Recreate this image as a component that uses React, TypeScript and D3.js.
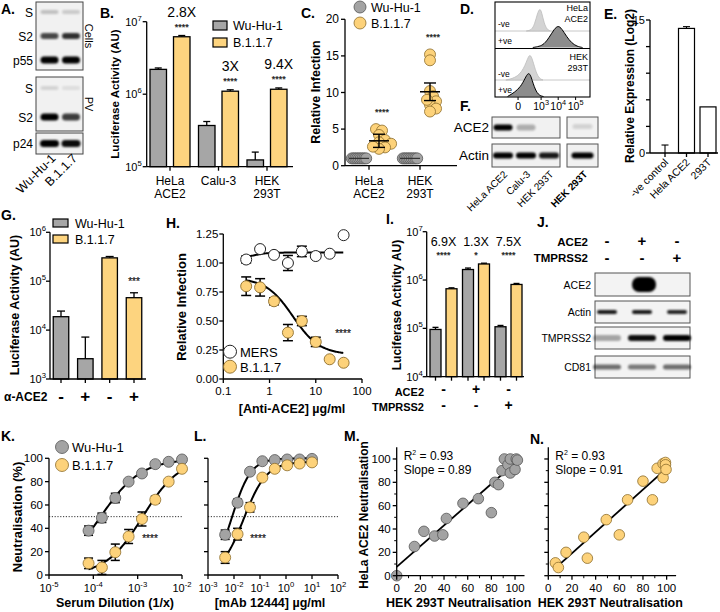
import React from "react";
import * as d3 from "d3";

const FONT = "'Liberation Sans', Arial, Helvetica, sans-serif";
const GRAY = "#a6a6a6";
const YELLOW = "#fdd47f";
const GRAY_PT = "#a3a3a3";
const GRAY_PT_STROKE = "#555";
const YELLOW_PT = "#fdd27a";
const YELLOW_PT_STROKE = "#8d6d2c";

// ---------- A (western blot) ----------
const A_LANES = ["Wu-Hu-1", "B.1.1.7"];
const A_CELL_ROWS = ["S", "S2", "p55"];
const A_CELL_INT = [[0.2, 0.16], [0.7, 0.8], [1, 1]];
const A_PV_ROWS = ["S", "S2"];
const A_PV_INT = [[0.12, 0.08], [1, 0.75]];
const A_P24_INT = [1, 0.95];

// ---------- B ----------
const B_CATS = ["HeLa ACE2", "Calu-3", "HEK 293T"];
const B_CAT_LINES = [["HeLa", "ACE2"], ["Calu-3"], ["HEK", "293T"]];
const B_WU = [2.2e6, 3.7e5, 1.24e5];
const B_WU_ERR = [0.1e6, 0.5e5, 0.35e5];
const B_B117 = [6.2e6, 1.1e6, 1.17e6];
const B_B117_ERR = [0.25e6, 0.05e6, 0.05e6];
const B_FOLD = ["2.8X", "3X", "9.4X"];
const B_SIG = ["****", "****", "****"];
const B_TICKS = [5, 6, 7];

// ---------- C ----------
const C_CATS = ["HeLa ACE2", "HEK 293T"];
const C_CAT_LINES = [["HeLa", "ACE2"], ["HEK", "293T"]];
const C_WU = [[1, 1, 1, 1, 1, 1, 1, 1, 1], [1, 1, 1, 1, 1, 1, 1, 1, 1]];
const C_B117 = [
  [5.0, 4.8, 4.2, 3.5, 3.2, 3.0, 2.5, 2.3, 2.6],
  [15.2, 14.4, 10.2, 9.5, 8.8, 8.3, 7.8, 7.4, 9.0],
];
const C_B117_MEAN = [3.4, 10.1];
const C_B117_ERR = [0.9, 1.2];
const C_SIG = ["****", "****"];
const C_TICKS = [0, 5, 10, 15, 20];

// ---------- D (flow histograms: [intensity, relative count]) ----------
const D_HELA_NEG = [[100, 0], [250, 0.04], [400, 0.3], [600, 0.78], [850, 1.0], [1100, 0.8], [1500, 0.35], [2200, 0.07], [3500, 0]];
const D_HELA_POS = [[300, 0], [800, 0.05], [1500, 0.15], [3000, 0.45], [6000, 0.85], [10000, 1.0], [16000, 0.86], [30000, 0.5], [60000, 0.2], [120000, 0.05], [250000, 0]];
const D_HEK_NEG = [[-200, 0], [0, 0.1], [80, 0.5], [180, 1.0], [300, 0.7], [500, 0.25], [800, 0.05], [1300, 0]];
const D_HEK_POS = [[-150, 0], [30, 0.3], [150, 1.0], [280, 0.55], [500, 0.15], [900, 0.02], [1400, 0]];
const D_TICKS = [0, 1000, 10000, 100000];
const D_TICK_EXP = ["", "3", "4", "5"];

// ---------- F (blot) ----------
const F_LANES = ["HeLa ACE2", "Calu-3", "HEK 293T"];
const F_ACE2 = [1, 0.28, 0];
const F_ACTIN = [1, 1, 0.9];
const F_LANES2 = ["HEK 293T"];
const F_ACE2_2 = [0.12];
const F_ACTIN_2 = [1];

// ---------- E ----------
const E_CATS = ["-ve control", "Hela ACE2", "293T"];
const E_VALS = [0, 14.05, 5.2];
const E_ERR = [0.9, 0.2, 0];
const E_MINOR = [3, 6, 9, 12];
const E_MAJOR = [0, 15];

// ---------- G ----------
const G_SIGN = ["-", "+", "-", "+"];
const G_GROUP = ["Wu-Hu-1", "Wu-Hu-1", "B.1.1.7", "B.1.1.7"];
const G_VALS = [1.88e4, 2.6e3, 3.0e5, 4.6e4];
const G_ERR_TOP = [2.45e4, 7.2e3, 3.2e5, 5.8e4];
const G_SIG = ["", "", "", "***"];
const G_TICKS = [3, 4, 5, 6];

// ---------- H ----------
const H_CONC = [0.3125, 0.625, 1.25, 2.5, 5, 10, 20, 40];
const H_MERS = [1.03, 1.12, 1.07, 1.0, 1.1, 1.06, 1.08, 1.24];
const H_MERS_ERR = [0.03, 0, 0, 0.065, 0.045, 0, 0, 0];
const H_B117 = [0.8, 0.79, 0.67, 0.4, 0.5, 0.32, 0.17, 0.14];
const H_B117_ERR = [0.08, 0.075, 0.03, 0.07, 0.04, 0.04, 0, 0];
const H_MERS_FIT = [1.04, 1.09, 0.45, 3]; // low-x, high-x, EC50, hill
const H_B117_FIT = [0.87, 0.21, 3.2, 1.5];
const H_YTICKS = [0, 0.25, 0.5, 0.75, 1.0, 1.25];
const H_XTICKS = [0.1, 1, 10, 100];

// ---------- I ----------
const I_ACE2 = ["-", "+", "-"];
const I_TMPRSS2 = ["-", "-", "+"];
const I_WU = [9.5e4, 1.65e6, 1.08e5];
const I_WU_ERR = [1.0e4, 1.2e5, 0.7e4];
const I_B117 = [6.6e5, 2.15e6, 8.1e5];
const I_B117_ERR = [0.3e5, 0.8e5, 0.4e5];
const I_FOLD = ["6.9X", "1.3X", "7.5X"];
const I_SIG = ["****", "*", "****"];
const I_TICKS = [4, 5, 6, 7];

// ---------- J (blot) ----------
const J_ACE2 = ["-", "+", "-"];
const J_TMPRSS2 = ["-", "-", "+"];
const J_ROWS = ["ACE2", "Actin", "TMPRSS2", "CD81"];
const J_INT = [[0, 1, 0], [0.9, 0.9, 0.85], [0.32, 0.95, 1], [0.55, 0.5, 0.55]];

// ---------- K ----------
const K_DIL = [0.000078, 0.000156, 0.000313, 0.000625, 0.00125, 0.0025, 0.005, 0.01];
const K_WU = [38, 49, 66, 80, 87, 95, 97, 99];
const K_WU_ERR = [4, 4, 4, 0, 0, 0, 0, 0];
const K_B117 = [10, 6.5, 19.5, 33, 48, 64.5, 80, 91];
const K_B117_ERR = [4.5, 6, 7, 6, 6, 3, 0, 0];
const K_WU_FIT = [0, 99.5, 0.000145, 0.95];
const K_B117_FIT = [0, 100, 0.0013, 1.05];
const K_XEXP = [-5, -4, -3, -2];

// ---------- L ----------
const L_CONC = [0.00457, 0.0137, 0.0412, 0.123, 0.37, 1.11, 3.33, 10];
const L_WU = [34.5, 62, 88.5, 97.5, 98.5, 99, 99, 99.5];
const L_WU_ERR = [4, 3, 0, 0, 0, 0, 0, 0];
const L_B117 = [15, 35, 58, 83.5, 91, 94, 95.5, 96.5];
const L_B117_ERR = [5, 5, 4, 0, 0, 0, 0, 0];
const L_WU_FIT = [0, 100, 0.0085, 1.2];
const L_B117_FIT = [0, 97, 0.024, 1.0];
const L_XEXP = [-3, -2, -1, 0, 1, 2];

// ---------- M / N ----------
const M_X = [0, 15, 23, 32, 39, 42, 56, 69, 80, 83, 86, 89, 91, 94, 96, 96, 100, 101, 102];
const M_Y = [0, 25, 38, 34, 35, 49, 62, 66, 54, 80, 78, 90, 100, 95, 88, 100, 91, 100, 99];
const M_FIT = [7.5, 0.89]; // intercept, slope
const M_FIT_RANGE = [0, 101];
const M_STATS = ["R² = 0.93", "Slope = 0.89"];
const N_X = [6, 8.5, 15, 30, 33, 49, 60, 67, 80, 88, 92, 97, 97, 99, 99, 99.5];
const N_Y = [11, 7, 20, 33, 15, 48, 35, 65, 81, 65, 92, 84, 96, 97, 95, 91];
const N_FIT = [1, 0.91];
const N_FIT_RANGE = [6, 100];
const N_STATS = ["R² = 0.93", "Slope = 0.91"];
const MN_TICKS = [0, 20, 40, 60, 80, 100];
const MN_MINOR = [10, 30, 50, 70, 90];

// ================= helpers =================
function fourPL(x: number, p: number[]) {
  const [a, d, c, b] = p;
  return d + (a - d) / (1 + Math.pow(x / c, b));
}

function Pow({ e }: { e: string | number }) {
  return (
    <>
      <tspan>10</tspan>
      <tspan dy={-5} fontSize="0.7em">{e}</tspan>
    </>
  );
}

function Stars({ x, y, t, fs = 9 }: any) {
  return (
    <text x={x} y={y} textAnchor="middle" fontSize={fs} fill="#222" stroke="#222" strokeWidth={0.25}>{t}</text>
  );
}

function Band({ cx, cy, w, h, k, rx }: any) {
  if (k <= 0) return null;
  return (
    <rect x={cx - w / 2} y={cy - h / 2} width={w} height={h} rx={rx ?? h / 2}
      fill="#000" opacity={k} filter="url(#bl)" />
  );
}

function ErrUp({ x, y0, y1, cap = 7, sw = 1.3 }: any) {
  return (
    <g stroke="#000" strokeWidth={sw}>
      <line x1={x} x2={x} y1={y0} y2={y1} />
      <line x1={x - cap / 2} x2={x + cap / 2} y1={y1} y2={y1} />
    </g>
  );
}

function ErrBoth({ x, ylo, yhi, cap = 8, sw = 1.3 }: any) {
  return (
    <g stroke="#000" strokeWidth={sw}>
      <line x1={x} x2={x} y1={ylo} y2={yhi} />
      <line x1={x - cap / 2} x2={x + cap / 2} y1={yhi} y2={yhi} />
      <line x1={x - cap / 2} x2={x + cap / 2} y1={ylo} y2={ylo} />
    </g>
  );
}

const AX = { stroke: "#000", strokeWidth: 1.3 };

function Label({ x, y, t }: any) {
  return <text x={x} y={y} fontSize={14} fontWeight="bold">{t}</text>;
}

// ================= panels =================
function PanelA() {
  const lx = d3.scalePoint<string>().domain(A_LANES).range([49.5, 71]);
  const cellY = d3.scalePoint<string>().domain(A_CELL_ROWS).range([12, 60]);
  const pvY = d3.scalePoint<string>().domain(A_PV_ROWS).range([88, 117]);
  const bh: any = { S: 4, S2: 6, p55: 7 };
  const boxFill = "#f1f1f1";
  return (
    <g>
      <Label x={1} y={14} t="A." />
      <rect x={36} y={2} width={47} height={68} fill={boxFill} stroke="#444" />
      <rect x={36} y={77} width={47} height={54} fill={boxFill} stroke="#444" />
      <rect x={36} y={133} width={47} height={21} fill={boxFill} stroke="#444" />
      {A_CELL_ROWS.map((r, i) => (
        <g key={"c" + r}>
          <text x={33} y={cellY(r)! + 4.5} textAnchor="end" fontSize={12}>{r}</text>
          {A_LANES.map((l, j) => (
            <Band key={l} cx={lx(l)} cy={cellY(r)} w={18} h={bh[r]} k={A_CELL_INT[i][j]} />
          ))}
        </g>
      ))}
      {A_PV_ROWS.map((r, i) => (
        <g key={"p" + r}>
          <text x={33} y={pvY(r)! + 4.5} textAnchor="end" fontSize={12}>{r}</text>
          {A_LANES.map((l, j) => (
            <Band key={l} cx={lx(l)} cy={pvY(r)} w={18} h={r === "S" ? 4 : 7} k={A_PV_INT[i][j]} />
          ))}
        </g>
      ))}
      <text x={33} y={148} textAnchor="end" fontSize={12}>p24</text>
      {A_LANES.map((l, j) => (
        <Band key={l} cx={lx(l)} cy={143.5} w={19} h={7} k={A_P24_INT[j]} />
      ))}
      <text transform="translate(85,36) rotate(90)" textAnchor="middle" fontSize={11}>Cells</text>
      <text transform="translate(85,104) rotate(90)" textAnchor="middle" fontSize={11}>PV</text>
      {A_LANES.map((l) => (
        <text key={l} transform={`translate(${lx(l)! + 7},159) rotate(-45)`} textAnchor="end" fontSize={12.5}>{l}</text>
      ))}
    </g>
  );
}

function PanelB() {
  const y = d3.scaleLog().domain([1e5, 1e7]).range([166.7, 21.7]);
  const x = d3.scalePoint<string>().domain(B_CATS).range([170, 267]);
  const X0 = 146.7, Y0 = 166.7, bw = 16.5, gap = 3.5;
  return (
    <g>
      <Label x={100} y={18} t="B." />
      {B_CATS.map((c, i) => {
        const cx = x(c)!;
        const gx = cx - gap - bw, yx = cx + gap;
        return (
          <g key={c}>
            <ErrUp x={gx + bw / 2} y0={y(B_WU[i])} y1={y(B_WU[i] + B_WU_ERR[i])} />
            <rect x={gx} y={y(B_WU[i])} width={bw} height={Y0 - y(B_WU[i])} fill={GRAY} stroke="#000" strokeWidth={1.3} />
            <ErrUp x={yx + bw / 2} y0={y(B_B117[i])} y1={y(B_B117[i] + B_B117_ERR[i])} />
            <rect x={yx} y={y(B_B117[i])} width={bw} height={Y0 - y(B_B117[i])} fill={YELLOW} stroke="#000" strokeWidth={1.3} />
            <text x={yx + bw / 2} y={y(B_B117[i]) - 20} textAnchor="middle" fontSize={14}>{B_FOLD[i]}</text>
            <Stars x={yx + bw / 2} y={y(B_B117[i]) - 7} t={B_SIG[i]} />
            {B_CAT_LINES[i].map((t, j) => (
              <text key={t} x={cx} y={185 + 13 * j} textAnchor="middle" fontSize={12}>{t}</text>
            ))}
            <line x1={cx} x2={cx} y1={Y0} y2={Y0 + 4} {...AX} />
          </g>
        );
      })}
      <line x1={X0} x2={X0} y1={21.7} y2={Y0} {...AX} />
      <line x1={X0} x2={293} y1={Y0} y2={Y0} {...AX} />
      {B_TICKS.map((e) => (
        <g key={e}>
          <line x1={X0 - 4} x2={X0} y1={y(Math.pow(10, e))} y2={y(Math.pow(10, e))} {...AX} />
          <text x={X0 - 5} y={y(Math.pow(10, e)) + 4} textAnchor="end" fontSize={11}><Pow e={e} /></text>
        </g>
      ))}
      <text transform={`translate(119,94) rotate(-90)`} textAnchor="middle" fontSize={11.5} fontWeight="bold">Luciferase Activity (AU)</text>
      <rect x={213} y={21} width={14} height={9} fill={GRAY} stroke="#000" strokeWidth={1.2} />
      <rect x={213} y={38} width={14} height={9} fill={YELLOW} stroke="#000" strokeWidth={1.2} />
      <text x={233} y={30} fontSize={12.5}>Wu-Hu-1</text>
      <text x={233} y={47} fontSize={12.5}>B.1.1.7</text>
    </g>
  );
}

function swarm(vals: number[], yf: (v: number) => number, r: number, cx: number, sep: number) {
  const placed: { x: number; y: number }[] = [];
  const out: { x: number; y: number }[] = new Array(vals.length);
  const order = vals.map((_, i) => i).sort((a, b) => vals[a] - vals[b]);
  const cands = [0];
  for (let j = 1; j < 14; j++) { cands.push(j * r * 0.55); cands.push(-j * r * 0.55); }
  for (const i of order) {
    const py = yf(vals[i]);
    let px = cx;
    for (const dx of cands) {
      const tx = cx + dx;
      if (placed.every((p) => (p.x - tx) ** 2 + (p.y - py) ** 2 >= sep * sep)) { px = tx; break; }
    }
    placed.push({ x: px, y: py });
    out[i] = { x: px, y: py };
  }
  return out;
}

function PanelC() {
  const y = d3.scaleLinear().domain([0, 20]).range([165.7, 19.3]);
  const x = d3.scalePoint<string>().domain(C_CATS).range([369, 420]);
  const X0 = 345, r = 5.5;
  return (
    <g>
      <Label x={301} y={18} t="C." />
      {C_CATS.map((c, i) => {
        const cx = x(c)!;
        const gcx = cx - 10, ycx = cx + 10;
        const pts = swarm(C_B117[i], (v) => y(v), r, ycx, 5.2);
        const m = C_B117_MEAN[i], e = C_B117_ERR[i];
        return (
          <g key={c}>
            {C_WU[i].map((v, j) => (
              <circle key={j} cx={gcx + (j - 4) * 1.8} cy={y(v)} r={r} fill={GRAY_PT} stroke={GRAY_PT_STROKE} strokeWidth={0.8} />
            ))}
            <line x1={gcx - 10} x2={gcx + 10} y1={y(d3.mean(C_WU[i])!)} y2={y(d3.mean(C_WU[i])!)} stroke="#333" strokeWidth={1.2} />
            {pts.map((p, j) => (
              <circle key={j} cx={p.x} cy={p.y} r={r} fill={YELLOW_PT} stroke={YELLOW_PT_STROKE} strokeWidth={0.8} />
            ))}
            <line x1={ycx - 10} x2={ycx + 10} y1={y(m)} y2={y(m)} stroke="#000" strokeWidth={1.5} />
            <ErrBoth x={ycx} ylo={y(m - e)} yhi={y(m + e)} cap={12} sw={1.4} />
            <Stars x={ycx + 3} y={y(d3.max(C_B117[i])!) - 14} t={C_SIG[i]} />
            {C_CAT_LINES[i].map((t, j) => (
              <text key={t} x={cx} y={185 + 13 * j} textAnchor="middle" fontSize={12}>{t}</text>
            ))}
            <line x1={cx} x2={cx} y1={165.7} y2={169.7} {...AX} />
          </g>
        );
      })}
      <line x1={X0} x2={X0} y1={19.3} y2={165.7} {...AX} />
      <line x1={X0} x2={457} y1={165.7} y2={165.7} {...AX} />
      {C_TICKS.map((t) => (
        <g key={t}>
          <line x1={X0 - 4} x2={X0} y1={y(t)} y2={y(t)} {...AX} />
          <text x={X0 - 6} y={y(t) + 4} textAnchor="end" fontSize={12}>{t}</text>
        </g>
      ))}
      <text transform="translate(320,92) rotate(-90)" textAnchor="middle" fontSize={12.5} fontWeight="bold">Relative Infection</text>
      <circle cx={360} cy={7} r={6} fill={GRAY_PT} stroke={GRAY_PT_STROKE} strokeWidth={0.8} />
      <circle cx={360} cy={23} r={6} fill={YELLOW_PT} stroke={YELLOW_PT_STROKE} strokeWidth={0.8} />
      <text x={371} y={11.5} fontSize={12.5}>Wu-Hu-1</text>
      <text x={371} y={27.5} fontSize={12.5}>B.1.1.7</text>
    </g>
  );
}

function PanelD() {
  const x = d3.scaleSymlog().constant(50).domain([-1000, 670000]).range([495, 590]);
  const area = (data: number[][], base: number, h: number) =>
    d3.area<number[]>().x((d) => x(d[0])).y0(base).y1((d) => base - d[1] * h).curve(d3.curveBasis)(data) || "";
  const line = (data: number[][], base: number, h: number) =>
    d3.line<number[]>().x((d) => x(d[0])).y((d) => base - d[1] * h).curve(d3.curveBasis)(data) || "";
  const lg = "#d4d4d4";
  return (
    <g>
      <Label x={460} y={14} t="D." />
      <defs>
        <clipPath id="dclip"><rect x={495} y={2} width={95} height={95} /></clipPath>
      </defs>
      <g clipPath="url(#dclip)">
        <line x1={495} x2={590} y1={31} y2={31} stroke="#c8c8c8" strokeWidth={1} />
        <path d={area(D_HELA_NEG, 31, 23)} fill={lg} stroke="#bdbdbd" strokeWidth={0.8} />
        <path d={area(D_HELA_POS, 47.5, 22)} fill="#8c8c8c" />
        <path d={line(D_HELA_POS, 47.5, 22)} fill="none" stroke="#000" strokeWidth={1} />
        <line x1={495} x2={590} y1={80} y2={80} stroke="#c8c8c8" strokeWidth={1} />
        <path d={area(D_HEK_NEG, 80, 28)} fill={lg} stroke="#bdbdbd" strokeWidth={0.8} />
        <path d={area(D_HEK_POS, 96.5, 28)} fill="#8c8c8c" />
        <path d={line(D_HEK_POS, 96.5, 28)} fill="none" stroke="#000" strokeWidth={1} />
      </g>
      <rect x={495} y={2} width={95} height={95} fill="none" stroke="#000" strokeWidth={1.1} />
      <line x1={495} x2={590} y1={48.5} y2={48.5} stroke="#000" strokeWidth={1.1} />
      <text x={498} y={27} fontSize={8.5}>-ve</text>
      <text x={498} y={44} fontSize={8.5}>+ve</text>
      <text x={498} y={77} fontSize={8.5}>-ve</text>
      <text x={498} y={93} fontSize={8.5}>+ve</text>
      <text x={588} y={11} textAnchor="end" fontSize={9}>HeLa</text>
      <text x={588} y={22} textAnchor="end" fontSize={9}>ACE2</text>
      <text x={588} y={60} textAnchor="end" fontSize={9}>HEK</text>
      <text x={588} y={71} textAnchor="end" fontSize={9}>293T</text>
      {D_TICKS.map((t, i) => (
        <g key={t}>
          <line x1={x(t)} x2={x(t)} y1={97} y2={100} stroke="#000" strokeWidth={1} />
          <text x={x(t)} y={110} textAnchor="middle" fontSize={10.5}>
            {D_TICK_EXP[i] === "" ? "0" : <Pow e={D_TICK_EXP[i]} />}
          </text>
        </g>
      ))}
    </g>
  );
}

function PanelF() {
  const lx = d3.scalePoint<string>().domain(F_LANES).range([503, 549]);
  const fill = "#f1f1f1";
  return (
    <g>
      <Label x={460} y={111} t="F." />
      <text x={489} y={132} textAnchor="end" fontSize={13.5}>ACE2</text>
      <text x={489} y={160} textAnchor="end" fontSize={13.5}>Actin</text>
      <rect x={492} y={117} width={68} height={21} fill={fill} stroke="#555" />
      <rect x={567} y={117} width={31} height={21} fill={fill} stroke="#555" />
      <rect x={492} y={144} width={68} height={23} fill={fill} stroke="#555" />
      <rect x={567} y={144} width={31} height={23} fill={fill} stroke="#555" />
      {F_LANES.map((l, i) => (
        <g key={l}>
          <Band cx={lx(l)} cy={127.5} w={19} h={6} k={F_ACE2[i]} />
          <Band cx={lx(l)} cy={155.5} w={20} h={6} k={F_ACTIN[i]} />
          <text transform={`translate(${lx(l)! + 5},175) rotate(-45)`} textAnchor="end" fontSize={10}>{l}</text>
        </g>
      ))}
      {F_LANES2.map((l, i) => (
        <g key={"2" + l}>
          <Band cx={582.5} cy={126.5} w={20} h={5} k={F_ACE2_2[i]} />
          <Band cx={582.5} cy={155.5} w={22} h={6} k={F_ACTIN_2[i]} />
          <text transform={`translate(588,175) rotate(-45)`} textAnchor="end" fontSize={10} fontWeight="bold">{l}</text>
        </g>
      ))}
    </g>
  );
}

function PanelE() {
  const y = d3.scaleLinear().domain([0, 15]).range([153, 20]);
  const x = d3.scalePoint<string>().domain(E_CATS).range([665, 708]);
  const X0 = 650, bw = 16;
  return (
    <g>
      <Label x={604} y={19} t="E." />
      {E_CATS.map((c, i) => {
        const cx = x(c)!;
        return (
          <g key={c}>
            {E_ERR[i] > 0 && <ErrUp x={cx} y0={y(E_VALS[i])} y1={y(E_VALS[i] + E_ERR[i])} cap={7} sw={1.1} />}
            {E_VALS[i] > 0 && (
              <rect x={cx - bw / 2} y={y(E_VALS[i])} width={bw} height={153 - y(E_VALS[i])} fill="#fff" stroke="#000" strokeWidth={1.2} />
            )}
            <line x1={cx} x2={cx} y1={153} y2={157} {...AX} />
            <text transform={`translate(${cx + 4},163) rotate(-45)`} textAnchor="end" fontSize={10.5}>{c}</text>
          </g>
        );
      })}
      <line x1={X0} x2={X0} y1={20} y2={153} {...AX} />
      <line x1={X0} x2={718} y1={153} y2={153} {...AX} />
      {E_MINOR.map((t) => (
        <line key={t} x1={X0 - 4} x2={X0} y1={y(t)} y2={y(t)} {...AX} />
      ))}
      {E_MAJOR.map((t) => (
        <g key={t}>
          <line x1={X0 - 4} x2={X0} y1={y(t)} y2={y(t)} {...AX} />
          <text x={X0 - 5} y={y(t) + 4} textAnchor="end" fontSize={11}>{t}</text>
        </g>
      ))}
      <text transform="translate(634,86) rotate(-90)" textAnchor="middle" fontSize={12} fontWeight="bold">Relative Expression (Log2)</text>
    </g>
  );
}

function PanelG() {
  const y = d3.scaleLog().domain([1e3, 1e6]).range([379, 232.3]);
  const x = d3.scalePoint<number>().domain([0, 1, 2, 3]).range([61, 134]);
  const X0 = 50, Y0 = 379, bw = 15.5;
  return (
    <g>
      <Label x={1} y={220} t="G." />
      {G_VALS.map((v, i) => {
        const cx = x(i)!;
        return (
          <g key={i}>
            <ErrUp x={cx} y0={y(v)} y1={y(G_ERR_TOP[i])} cap={8} />
            <rect x={cx - bw / 2} y={y(v)} width={bw} height={Y0 - y(v)} fill={G_GROUP[i] === "Wu-Hu-1" ? GRAY : YELLOW} stroke="#000" strokeWidth={1.3} />
            <line x1={cx} x2={cx} y1={Y0} y2={Y0 + 4} {...AX} />
            <text x={cx} y={402} textAnchor="middle" fontSize={17} fontWeight="bold">{G_SIGN[i]}</text>
            {G_SIG[i] && <Stars x={cx} y={y(G_ERR_TOP[i]) - 8} t={G_SIG[i]} fs={10} />}
          </g>
        );
      })}
      <line x1={X0} x2={X0} y1={232.3} y2={Y0} {...AX} />
      <line x1={X0} x2={146} y1={Y0} y2={Y0} {...AX} />
      {G_TICKS.map((e) => (
        <g key={e}>
          <line x1={X0 - 4} x2={X0} y1={y(Math.pow(10, e))} y2={y(Math.pow(10, e))} {...AX} />
          <text x={X0 - 4} y={y(Math.pow(10, e)) + 4} textAnchor="end" fontSize={11}><Pow e={e} /></text>
        </g>
      ))}
      <text x={4} y={401} fontSize={12} fontWeight="bold">α-ACE2</text>
      <text transform="translate(19,305) rotate(-90)" textAnchor="middle" fontSize={12.5} fontWeight="bold">Luciferase Activity (AU)</text>
      <rect x={53} y={219} width={15} height={8} fill={GRAY} stroke="#000" strokeWidth={1.2} />
      <rect x={53} y={235} width={15} height={8} fill={YELLOW} stroke="#000" strokeWidth={1.2} />
      <text x={75} y={228} fontSize={12.5}>Wu-Hu-1</text>
      <text x={75} y={244} fontSize={12.5}>B.1.1.7</text>
    </g>
  );
}

function PanelH() {
  const x = d3.scaleLog().domain([0.1, 100]).range([223.3, 362]);
  const y = d3.scaleLinear().domain([0, 1.25]).range([379, 234]);
  const X0 = 223.3, Y0 = 379, r = 5.5;
  const xs = d3.range(Math.log10(H_CONC[0]), Math.log10(H_CONC[H_CONC.length - 1]) + 0.001, 0.02).map((l) => Math.pow(10, l));
  const curve = (p: number[]) => d3.line<number>().x((c) => x(c)).y((c) => y(fourPL(c, p)))(xs) || "";
  return (
    <g>
      <Label x={166} y={228} t="H." />
      <path d={curve(H_MERS_FIT)} fill="none" stroke="#000" strokeWidth={2} />
      <path d={curve(H_B117_FIT)} fill="none" stroke="#000" strokeWidth={2} />
      {H_CONC.map((c, i) => (
        <g key={c}>
          {H_MERS_ERR[i] > 0 && <ErrBoth x={x(c)} ylo={y(H_MERS[i] - H_MERS_ERR[i])} yhi={y(H_MERS[i] + H_MERS_ERR[i])} cap={10} sw={1.5} />}
          <circle cx={x(c)} cy={y(H_MERS[i])} r={r} fill="#fff" stroke="#222" strokeWidth={1} />
          {H_B117_ERR[i] > 0 && <ErrBoth x={x(c)} ylo={y(H_B117[i] - H_B117_ERR[i])} yhi={y(H_B117[i] + H_B117_ERR[i])} cap={10} sw={1.5} />}
          <circle cx={x(c)} cy={y(H_B117[i])} r={r} fill={YELLOW_PT} stroke={YELLOW_PT_STROKE} strokeWidth={0.9} />
        </g>
      ))}
      <Stars x={343} y={337} t="****" fs={10} />
      <line x1={X0} x2={X0} y1={234} y2={Y0} {...AX} />
      <line x1={X0} x2={362} y1={Y0} y2={Y0} {...AX} />
      {H_YTICKS.map((t) => (
        <g key={t}>
          <line x1={X0 - 4} x2={X0} y1={y(t)} y2={y(t)} {...AX} />
          <text x={X0 - 5} y={y(t) + 4} textAnchor="end" fontSize={11.5}>{d3.format(".2f")(t)}</text>
        </g>
      ))}
      {H_XTICKS.map((t) => (
        <g key={t}>
          <line x1={x(t)} x2={x(t)} y1={Y0} y2={Y0 + 4} {...AX} />
          <text x={x(t)} y={Y0 + 16} textAnchor="middle" fontSize={11.5}>{t}</text>
        </g>
      ))}
      <text transform="translate(186,307) rotate(-90)" textAnchor="middle" fontSize={13} fontWeight="bold">Relative Infection</text>
      <text x={292} y={413} textAnchor="middle" fontSize={12.5} fontWeight="bold">[Anti-ACE2] µg/ml</text>
      <circle cx={230} cy={351.7} r={6.5} fill="#fff" stroke="#222" strokeWidth={1} />
      <circle cx={230} cy={366.7} r={6.5} fill={YELLOW_PT} stroke={YELLOW_PT_STROKE} strokeWidth={0.9} />
      <text x={240} y={356.5} fontSize={13}>MERS</text>
      <text x={240} y={371.5} fontSize={13}>B.1.1.7</text>
    </g>
  );
}

function PanelI() {
  const y = d3.scaleLog().domain([1e4, 1e7]).range([376.7, 231.7]);
  const x = d3.scalePoint<number>().domain([0, 1, 2]).range([443.5, 508.5]);
  const X0 = 426.7, Y0 = 376.7, bw = 11, gap = 2.5;
  return (
    <g>
      <Label x={386} y={224} t="I." />
      {I_WU.map((v, i) => {
        const cx = x(i)!;
        const gx = cx - gap - bw, yx = cx + gap;
        const w = I_B117[i];
        return (
          <g key={i}>
            <ErrUp x={gx + bw / 2} y0={y(v)} y1={y(v + I_WU_ERR[i])} cap={6} />
            <rect x={gx} y={y(v)} width={bw} height={Y0 - y(v)} fill={GRAY} stroke="#000" strokeWidth={1.3} />
            <ErrUp x={yx + bw / 2} y0={y(w)} y1={y(w + I_B117_ERR[i])} cap={6} />
            <rect x={yx} y={y(w)} width={bw} height={Y0 - y(w)} fill={YELLOW} stroke="#000" strokeWidth={1.3} />
            <line x1={gx + bw / 2} x2={gx + bw / 2} y1={Y0} y2={Y0 + 4} {...AX} />
            <line x1={yx + bw / 2} x2={yx + bw / 2} y1={Y0} y2={Y0 + 4} {...AX} />
            <text x={cx} y={246} textAnchor="middle" fontSize={12.5}>{I_FOLD[i]}</text>
            <Stars x={cx} y={258} t={I_SIG[i]} />
            <text x={cx} y={394} textAnchor="middle" fontSize={14} fontWeight="bold">{I_ACE2[i]}</text>
            <text x={cx} y={410} textAnchor="middle" fontSize={14} fontWeight="bold">{I_TMPRSS2[i]}</text>
          </g>
        );
      })}
      <line x1={X0} x2={X0} y1={231.7} y2={Y0} {...AX} />
      <line x1={X0} x2={524} y1={Y0} y2={Y0} {...AX} />
      {I_TICKS.map((e) => (
        <g key={e}>
          <line x1={X0 - 4} x2={X0} y1={y(Math.pow(10, e))} y2={y(Math.pow(10, e))} {...AX} />
          <text x={X0 - 4} y={y(Math.pow(10, e)) + 4} textAnchor="end" fontSize={11}><Pow e={e} /></text>
        </g>
      ))}
      <text x={424} y={396} textAnchor="end" fontSize={11} fontWeight="bold">ACE2</text>
      <text x={424} y={411} textAnchor="end" fontSize={11} fontWeight="bold">TMPRSS2</text>
      <text transform="translate(401,305) rotate(-90)" textAnchor="middle" fontSize={12} fontWeight="bold">Luciferase Activity AU)</text>
    </g>
  );
}

function PanelJ() {
  const lx = d3.scalePoint<number>().domain([0, 1, 2]).range([607, 677]);
  const rowY = [273, 301, 327, 356];
  const rowH = [23, 22, 22, 22];
  const bw = [24, 20, 28, 28];
  const bh = [15, 4, 6, 5];
  return (
    <g>
      <Label x={537} y={227} t="J." />
      <text x={588} y={246} textAnchor="end" fontSize={11.5} fontWeight="bold">ACE2</text>
      <text x={588} y={262} textAnchor="end" fontSize={11.5} fontWeight="bold">TMPRSS2</text>
      {J_ACE2.map((s, i) => (
        <g key={i}>
          <text x={lx(i)} y={246} textAnchor="middle" fontSize={15} fontWeight="bold">{s}</text>
          <text x={lx(i)} y={263} textAnchor="middle" fontSize={15} fontWeight="bold">{J_TMPRSS2[i]}</text>
        </g>
      ))}
      {J_ROWS.map((r, ri) => (
        <g key={r}>
          <rect x={595} y={rowY[ri]} width={95} height={rowH[ri]} fill="#f3f3f3" stroke="#555" />
          <text x={591} y={rowY[ri] + rowH[ri] / 2 + 4} textAnchor="end" fontSize={10.5}>{r}</text>
          {J_INT[ri].map((k, i) => (
            <Band key={i} cx={lx(i)! + (ri === 0 ? 2 : 0)} cy={rowY[ri] + rowH[ri] / 2} w={bw[ri]} h={bh[ri]} k={k} rx={ri === 0 ? 7 : undefined} />
          ))}
        </g>
      ))}
    </g>
  );
}

function NeutPanel({ x, xs, a, aErr, b, bErr, fa, fb, showY, X0, X1, sigX, exps }: any) {
  const y = d3.scaleLinear().domain([0, 100]).range([575, 458.3]);
  const Y0 = 575, r = 5.5;
  const grid = d3.range(Math.log10(xs[0]), Math.log10(xs[xs.length - 1]) + 0.001, 0.02).map((l) => Math.pow(10, l));
  const curve = (p: number[]) => d3.line<number>().x((c) => x(c)).y((c) => y(fourPL(c, p)))(grid) || "";
  return (
    <g>
      <line x1={X0} x2={X1} y1={y(50)} y2={y(50)} stroke="#333" strokeWidth={1} strokeDasharray="1.2,1.6" />
      <path d={curve(fa)} fill="none" stroke="#000" strokeWidth={2} />
      <path d={curve(fb)} fill="none" stroke="#000" strokeWidth={2} />
      {xs.map((c: number, i: number) => (
        <g key={c}>
          {aErr[i] > 0 && <ErrBoth x={x(c)} ylo={y(a[i] - aErr[i])} yhi={y(a[i] + aErr[i])} cap={9} sw={1.5} />}
          <circle cx={x(c)} cy={y(a[i])} r={r} fill={GRAY_PT} stroke={GRAY_PT_STROKE} strokeWidth={0.8} />
          {bErr[i] > 0 && <ErrBoth x={x(c)} ylo={y(b[i] - bErr[i])} yhi={y(b[i] + bErr[i])} cap={9} sw={1.5} />}
          <circle cx={x(c)} cy={y(b[i])} r={r} fill={YELLOW_PT} stroke={YELLOW_PT_STROKE} strokeWidth={0.8} />
        </g>
      ))}
      <Stars x={sigX} y={542} t="****" fs={10} />
      <line x1={X0} x2={X0} y1={458.3} y2={Y0} {...AX} />
      <line x1={X0} x2={X1} y1={Y0} y2={Y0} {...AX} />
      {MN_TICKS.map((t) => (
        <g key={t}>
          <line x1={X0 - 4} x2={X0} y1={y(t)} y2={y(t)} {...AX} />
          {showY && <text x={X0 - 6} y={y(t) + 4} textAnchor="end" fontSize={11.5}>{t}</text>}
        </g>
      ))}
      {exps.map((e: number) => (
        <g key={e}>
          <line x1={x(Math.pow(10, e))} x2={x(Math.pow(10, e))} y1={Y0} y2={Y0 + 4} {...AX} />
          <text x={x(Math.pow(10, e))} y={Y0 + 17} textAnchor="middle" fontSize={11}><Pow e={e} /></text>
        </g>
      ))}
    </g>
  );
}

function PanelK() {
  const x = d3.scaleLog().domain([1e-5, 1e-2]).range([49, 182]);
  return (
    <g>
      <Label x={1} y={441} t="K." />
      <NeutPanel x={x} xs={K_DIL} a={K_WU} aErr={K_WU_ERR} b={K_B117} bErr={K_B117_ERR} fa={K_WU_FIT} fb={K_B117_FIT}
        showY={true} X0={49} X1={182} sigX={150} exps={K_XEXP} />
      <text transform="translate(22,517) rotate(-90)" textAnchor="middle" fontSize={13} fontWeight="bold">Neutralisation (%)</text>
      <text x={115} y={607} textAnchor="middle" fontSize={12.5} fontWeight="bold">Serum Dilution (1/x)</text>
      <circle cx={62} cy={447} r={6.5} fill={GRAY_PT} stroke={GRAY_PT_STROKE} strokeWidth={0.8} />
      <circle cx={62} cy={465} r={6.5} fill={YELLOW_PT} stroke={YELLOW_PT_STROKE} strokeWidth={0.8} />
      <text x={72} y={452} fontSize={13}>Wu-Hu-1</text>
      <text x={72} y={470} fontSize={13}>B.1.1.7</text>
    </g>
  );
}

function PanelL() {
  const x = d3.scaleLog().domain([1e-3, 1e2]).range([208, 338]);
  return (
    <g>
      <Label x={194} y={441} t="L." />
      <NeutPanel x={x} xs={L_CONC} a={L_WU} aErr={L_WU_ERR} b={L_B117} bErr={L_B117_ERR} fa={L_WU_FIT} fb={L_B117_FIT}
        showY={false} X0={208} X1={338} sigX={258} exps={L_XEXP} />
      <text x={270} y={607} textAnchor="middle" fontSize={12.5} fontWeight="bold">[mAb 12444] µg/ml</text>
    </g>
  );
}

function Scatter({ X0, xs, ys, fit, range, stats, fillC, strokeC, showY, title }: any) {
  const x = d3.scaleLinear().domain([0, 108]).range([X0, X0 + 127.8]);
  const y = d3.scaleLinear().domain([0, 110]).range([575.7, 447.3]);
  const Y0 = 575.7;
  return (
    <g>
      <line x1={x(range[0])} x2={x(range[1])} y1={y(fit[0] + fit[1] * range[0])} y2={y(fit[0] + fit[1] * range[1])} stroke="#000" strokeWidth={1.8} />
      {xs.map((v: number, i: number) => (
        <circle key={i} cx={x(v)} cy={y(ys[i])} r={5.3} fill={fillC} stroke={strokeC} strokeWidth={0.8} />
      ))}
      <line x1={X0} x2={X0} y1={447.3} y2={Y0} {...AX} />
      <line x1={X0} x2={x(108)} y1={Y0} y2={Y0} {...AX} />
      {MN_TICKS.map((t) => (
        <g key={t}>
          <line x1={X0 - 4} x2={X0} y1={y(t)} y2={y(t)} {...AX} />
          {showY && <text x={X0 - 6} y={y(t) + 4} textAnchor="end" fontSize={11.5}>{t}</text>}
          <line x1={x(t)} x2={x(t)} y1={Y0} y2={Y0 + 4} {...AX} />
          <text x={x(t)} y={Y0 + 16} textAnchor="middle" fontSize={11.5}>{t}</text>
        </g>
      ))}
      {MN_MINOR.map((t) => (
        <g key={t}>
          <line x1={X0 - 2.5} x2={X0} y1={y(t)} y2={y(t)} stroke="#000" strokeWidth={1} />
          <line x1={x(t)} x2={x(t)} y1={Y0} y2={Y0 + 2.5} stroke="#000" strokeWidth={1} />
        </g>
      ))}
      <text x={X0 + 7} y={460} fontSize={12}>
        R<tspan dy={-5} fontSize={7}>2</tspan><tspan dy={5}>{stats[0].slice(2)}</tspan>
      </text>
      <text x={X0 + 7} y={474} fontSize={12}>{stats[1]}</text>
      <text x={X0 + 62} y={607} textAnchor="middle" fontSize={12.5} fontWeight="bold">{title}</text>
    </g>
  );
}

function PanelM() {
  return (
    <g>
      <Label x={344} y={441} t="M." />
      <Scatter X0={396.7} xs={M_X} ys={M_Y} fit={M_FIT} range={M_FIT_RANGE} stats={M_STATS}
        fillC={GRAY_PT} strokeC={GRAY_PT_STROKE} showY={true} title="HEK 293T Neutralisation" />
      <text transform="translate(368,515) rotate(-90)" textAnchor="middle" fontSize={12} fontWeight="bold">HeLa ACE2 Neutralisation</text>
    </g>
  );
}

function PanelN() {
  return (
    <g>
      <Label x={530} y={444} t="N." />
      <Scatter X0={548.3} xs={N_X} ys={N_Y} fit={N_FIT} range={N_FIT_RANGE} stats={N_STATS}
        fillC={YELLOW_PT} strokeC={YELLOW_PT_STROKE} showY={false} title="HEK 293T Neutralisation" />
    </g>
  );
}

export default function App() {
  return (
    <div style={{ position: "absolute", left: 0, top: 0 }}>
      <svg width={720} height={612} style={{ display: "block", background: "#fff" }} fontFamily={FONT}>
        <defs>
          <filter id="bl" x="-50%" y="-150%" width="200%" height="400%">
            <feGaussianBlur stdDeviation="1.3" />
          </filter>
        </defs>
        <PanelA />
        <PanelB />
        <PanelC />
        <PanelD />
        <PanelF />
        <PanelE />
        <PanelG />
        <PanelH />
        <PanelI />
        <PanelJ />
        <PanelK />
        <PanelL />
        <PanelM />
        <PanelN />
      </svg>
    </div>
  );
}
